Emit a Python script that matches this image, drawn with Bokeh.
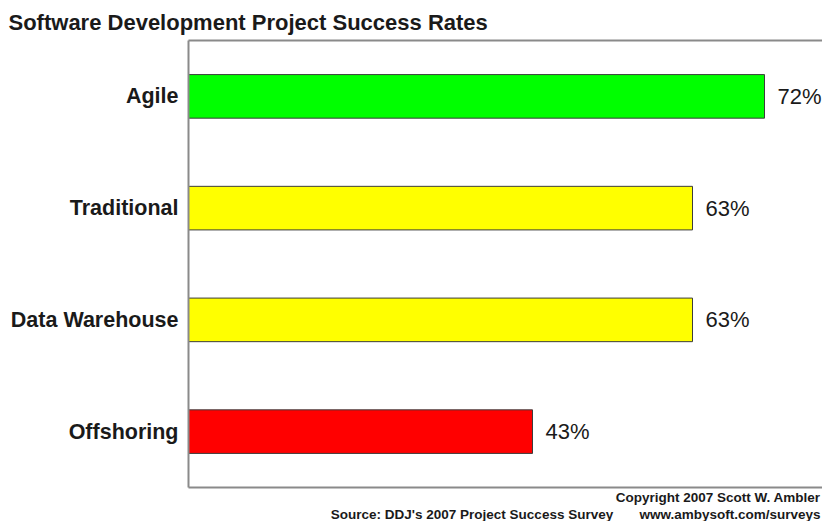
from bokeh.plotting import figure
from bokeh.models import ColumnDataSource, FactorRange, Range1d, Title, LinearAxis
from bokeh.core.properties import value
from bokeh.embed import file_html
from bokeh.resources import INLINE

# ---- data ----
categories = ["Agile", "Traditional", "Data Warehouse", "Offshoring"]
success_rates = [72, 63, 63, 43]
bar_colors = ["#00ff00", "#ffff00", "#ffff00", "#ff0000"]
value_labels = [f"{r}%" for r in success_rates]

title_text = "Software Development Project Success Rates"
footer_line1 = "Copyright 2007 Scott W. Ambler"
footer_line2 = "Source: DDJ's 2007 Project Success Survey" + "\u00a0" * 7 + "www.ambysoft.com/surveys"

FONT = "Liberation Sans"
BORDER = "#8a8a8a"

src = ColumnDataSource(dict(cat=categories, rate=success_rates, color=bar_colors, label=value_labels))

p = figure(
    y_range=FactorRange(factors=categories[::-1], range_padding=0),
    x_range=Range1d(0, 79.25),
    width=822, height=521,
    output_backend="svg", toolbar_location=None,
    min_border_left=188, min_border_right=0, min_border_top=40, min_border_bottom=33,
    background_fill_color="white", border_fill_color="white",
)

p.hbar(y="cat", left=0, right="rate", height=0.39, fill_color="color",
       line_color="#3c3c3c", line_width=1, source=src)
p.text(x="rate", y="cat", text="label", x_offset=13, text_baseline="middle",
       text_font=value(FONT), text_font_size="22px", text_color="#1a1a1a", source=src)

# frame border on left, top and bottom only (drawn as axis lines)
p.outline_line_color = None
p.xgrid.visible = False
p.ygrid.visible = False

def line_only(ax):
    ax.axis_line_color = BORDER
    ax.axis_line_width = 2
    ax.major_tick_line_color = None
    ax.minor_tick_line_color = None
    ax.major_tick_out = 0
    ax.minor_tick_out = 0
    ax.major_label_standoff = 0
    ax.major_label_text_font_size = "0px"
    ax.major_label_text_color = None

line_only(p.xaxis[0])
top_axis = LinearAxis()
line_only(top_axis)
p.add_layout(top_axis, "above")

p.yaxis.axis_line_color = BORDER
p.yaxis.axis_line_width = 2
p.yaxis.major_tick_line_color = None
p.yaxis.minor_tick_line_color = None
p.yaxis.major_tick_out = 0
p.yaxis.major_label_standoff = 10
p.yaxis.major_label_text_font = FONT
p.yaxis.major_label_text_font_size = "21.5px"
p.yaxis.major_label_text_font_style = "bold"
p.yaxis.major_label_text_color = "#1a1a1a"

# title
p.title.text = title_text
p.title.align = "left"
p.title.offset = -180
p.title.standoff = 11
p.title.text_font = FONT
p.title.text_font_size = "22px"
p.title.text_font_style = "bold"
p.title.text_color = "#1a1a1a"

# footer
t1 = Title(text=footer_line1, align="right", offset=2, standoff=0,
           text_font=FONT, text_font_size="13.5px", text_font_style="bold", text_color="#1a1a1a")
t2 = Title(text=footer_line2, align="right", offset=2, standoff=0,
           text_font=FONT, text_font_size="13.5px", text_font_style="bold", text_color="#1a1a1a")
p.add_layout(t1, "below")
p.add_layout(t2, "below")

open("out.html", "w").write(file_html(p, INLINE))
